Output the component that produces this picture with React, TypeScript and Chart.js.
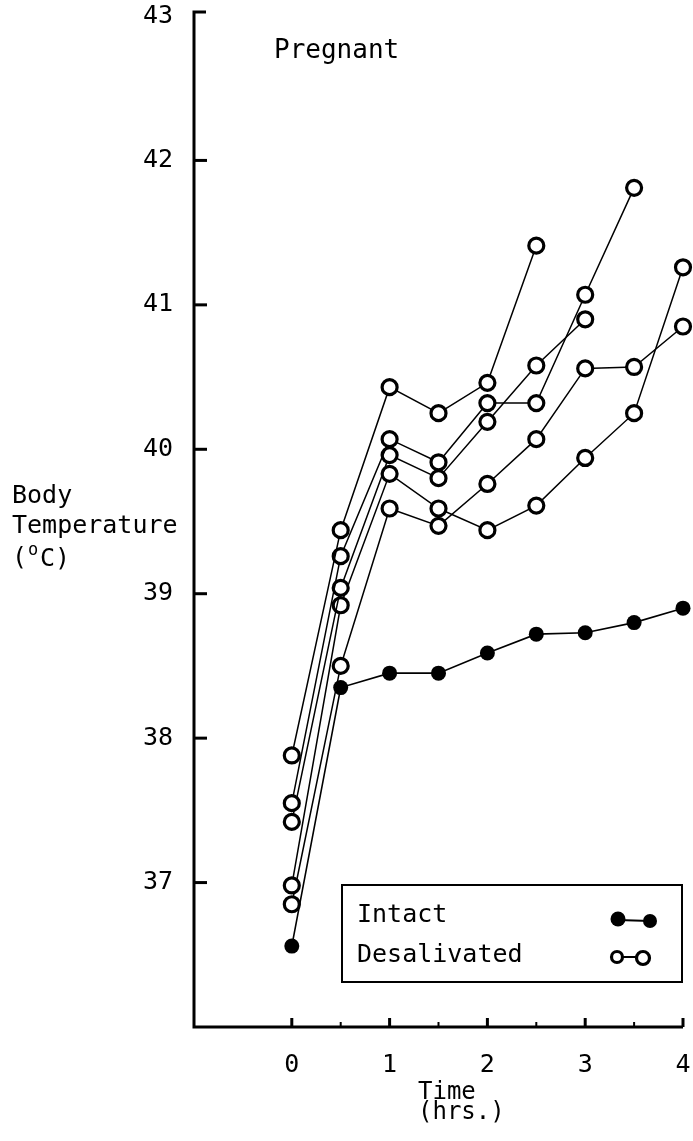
import React, { useEffect, useRef } from "react";
import { Chart, registerables } from "chart.js";

Chart.register(...registerables);

const times = [0, 0.5, 1, 1.5, 2, 2.5, 3, 3.5, 4];
const intact = [36.56, 38.35, 38.45, 38.45, 38.59, 38.72, 38.73, 38.8, 38.9];
const desalA = [37.88, 39.44, 40.43, 40.25, 40.46, 41.41];
const desalB = [37.55, 39.26, 40.07, 39.91, 40.32, 40.32, 41.07, 41.81];
const desalC = [37.42, 39.04, 39.96, 39.8, 40.19, 40.58, 40.9];
const desalD = [36.98, 38.92, 39.83, 39.59, 39.44, 39.61, 39.94, 40.25, 41.26];
const desalE = [36.85, 38.5, 39.59, 39.47, 39.76, 40.07, 40.56, 40.57, 40.85];
const yTicks = [37, 38, 39, 40, 41, 42, 43];
const xTickLabels = [0, 1, 2, 3, 4];

const FONT = "'DejaVu Sans Mono', monospace";

const toPts = (vals: number[]) => vals.map((y, i) => ({ x: times[i], y }));

const openStyle = {
  showLine: true,
  borderColor: "#000",
  borderWidth: 1.5,
  pointRadius: 7.5,
  pointBorderWidth: 3.2,
  pointBackgroundColor: "#fff",
  pointBorderColor: "#000",
  tension: 0,
};

const decor = {
  id: "decor",
  afterDraw(chart: any) {
    const ctx = chart.ctx;
    const xs = chart.scales.x;
    const ys = chart.scales.y;
    const { left, right, bottom } = chart.chartArea;
    ctx.save();
    ctx.strokeStyle = "#000";
    ctx.fillStyle = "#000";
    ctx.lineCap = "butt";
    // axes
    ctx.lineWidth = 3;
    const top = ys.getPixelForValue(43) - 4;
    ctx.beginPath();
    ctx.moveTo(left + 12, top);
    ctx.lineTo(left, top);
    ctx.lineTo(left, bottom);
    ctx.lineTo(right, bottom);
    ctx.stroke();
    // y ticks (inward)
    yTicks.forEach((v) => {
      if (v === 43) return;
      const py = ys.getPixelForValue(v);
      ctx.beginPath();
      ctx.moveTo(left, py);
      ctx.lineTo(left + 13, py);
      ctx.stroke();
    });
    // x ticks (inward)
    times.forEach((t) => {
      const px = xs.getPixelForValue(t);
      const len = Number.isInteger(t) ? 9 : 5;
      ctx.lineWidth = Number.isInteger(t) ? 3 : 2;
      ctx.beginPath();
      ctx.moveTo(px, bottom);
      ctx.lineTo(px, bottom - len);
      ctx.stroke();
    });

    // texts
    ctx.textBaseline = "middle";
    ctx.textAlign = "left";
    ctx.font = `26px ${FONT}`;
    ctx.fillText("Pregnant", 274, 51);
    ctx.font = `25px ${FONT}`;
    ctx.fillText("Body", 12, 496);
    ctx.fillText("Temperature", 12, 526);
    ctx.fillText("(", 12, 558);
    ctx.font = `17px ${FONT}`;
    ctx.fillText("o", 28, 551);
    ctx.font = `25px ${FONT}`;
    ctx.fillText("C)", 40, 559);
    ctx.font = `24px ${FONT}`;
    ctx.fillText("Time", 418, 1093);
    ctx.fillText("(hrs.)", 418, 1113);

    // legend box
    ctx.lineWidth = 2;
    ctx.strokeRect(342, 885, 340, 97);
    ctx.font = `25px ${FONT}`;
    ctx.fillText(chart.data.datasets[0].label, 357, 915);
    ctx.fillText("Desalivated", 357, 955);
    // intact marker
    ctx.lineWidth = 2;
    ctx.beginPath();
    ctx.moveTo(618, 920);
    ctx.lineTo(650, 921);
    ctx.stroke();
    ctx.beginPath();
    ctx.arc(618, 919, 7.5, 0, Math.PI * 2);
    ctx.fill();
    ctx.beginPath();
    ctx.arc(650, 921, 7, 0, Math.PI * 2);
    ctx.fill();
    // desalivated marker
    ctx.beginPath();
    ctx.moveTo(618, 957);
    ctx.lineTo(642, 957);
    ctx.stroke();
    ctx.lineWidth = 3.2;
    ctx.fillStyle = "#fff";
    ctx.beginPath();
    ctx.arc(617, 957, 5.5, 0, Math.PI * 2);
    ctx.fill();
    ctx.stroke();
    ctx.beginPath();
    ctx.arc(643, 958, 6.5, 0, Math.PI * 2);
    ctx.fill();
    ctx.stroke();
    ctx.restore();
  },
};

export default function App() {
  const ref = useRef<HTMLCanvasElement | null>(null);
  useEffect(() => {
    if (!ref.current) return;
    const chart = new Chart(ref.current, {
      type: "scatter",
      data: {
        datasets: [
          {
            label: "Intact",
            data: toPts(intact),
            showLine: true,
            borderColor: "#000",
            borderWidth: 1.6,
            pointRadius: 7.5,
            pointBorderWidth: 0,
            pointBackgroundColor: "#000",
            pointBorderColor: "#000",
          },
          { label: "Desalivated A", data: toPts(desalA), ...openStyle },
          { label: "Desalivated B", data: toPts(desalB), ...openStyle },
          { label: "Desalivated C", data: toPts(desalC), ...openStyle },
          { label: "Desalivated D", data: toPts(desalD), ...openStyle },
          { label: "Desalivated E", data: toPts(desalE), ...openStyle },
        ],
      },
      options: {
        responsive: false,
        animation: false,
        devicePixelRatio: 1,
        layout: { autoPadding: false, padding: { top: 16, right: 10, left: 0, bottom: 0 } },
        plugins: { legend: { display: false }, tooltip: { enabled: false } },
        elements: { line: { tension: 0 } },
        clip: false as any,
        scales: {
          x: {
            type: "linear",
            min: -1,
            max: 4,
            grid: { display: false, drawTicks: false },
            border: { display: false },
            afterFit: (s: any) => {
              s.height = 1141 - 1027;
              s.paddingLeft = 0;
              s.paddingRight = 0;
            },
            ticks: {
              stepSize: 1,
              padding: 23,
              color: "#000",
              font: { family: FONT, size: 25 },
              callback: (v: any) => (xTickLabels.includes(Number(v)) ? String(v) : ""),
            },
          },
          y: {
            type: "linear",
            min: 36,
            max: 43,
            grid: { display: false, drawTicks: false },
            border: { display: false },
            afterFit: (s: any) => {
              s.width = 194;
              s.paddingTop = 0;
              s.paddingBottom = 0;
            },
            ticks: {
              stepSize: 1,
              padding: 21,
              color: "#000",
              font: { family: FONT, size: 25 },
              callback: (v: any) => (yTicks.includes(Number(v)) ? String(v) : ""),
            },
          },
        },
      },
      plugins: [decor],
    });
    return () => chart.destroy();
  }, []);
  return (
    <div style={{ position: "absolute", left: 0, top: 0, width: 693, height: 1141, background: "#fff" }}>
      <canvas ref={ref} width={693} height={1141} style={{ display: "block" }} />
    </div>
  );
}
